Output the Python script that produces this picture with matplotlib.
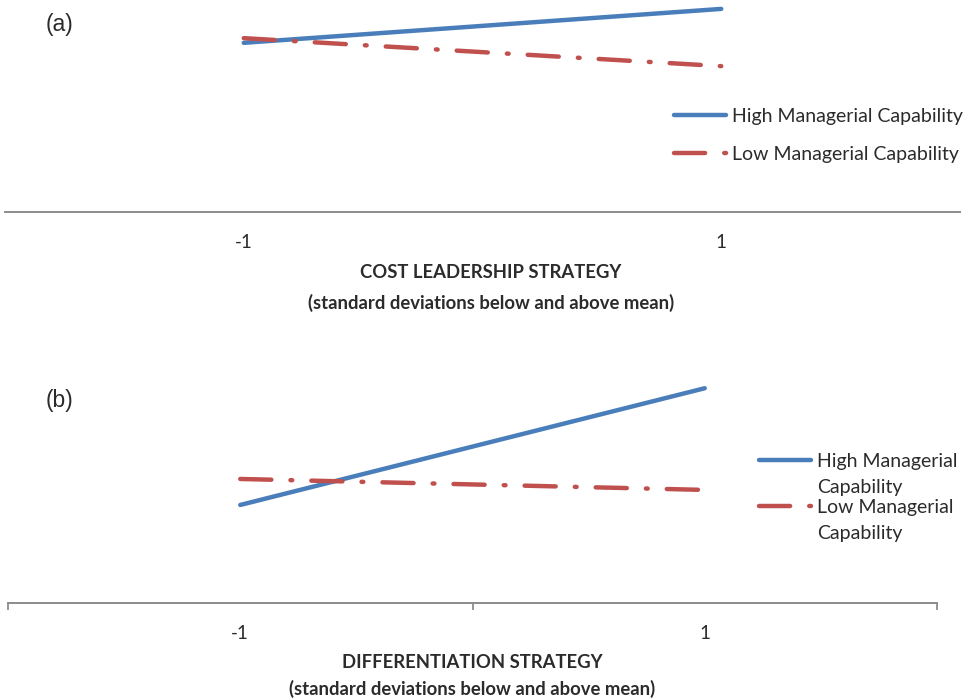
import matplotlib
matplotlib.use('Agg')
import matplotlib.pyplot as plt
from matplotlib.lines import Line2D

# values (arbitrary outcome units, axis bottom = 0)
levels = ['-1', '1']
cost_high = [3.99, 4.79]
cost_low = [4.10, 3.44]
diff_high = [2.15, 4.71]
diff_low = [2.72, 2.48]
labels_a = ['High Managerial Capability', 'Low Managerial Capability']
labels_b = ['High Managerial\nCapability', 'Low Managerial\nCapability']

BLUE = '#4A7EBB'
RED = '#C0504D'
GREY = '#8C8C8C'
TXT = '#2B2B2B'
FONT = ['Lato', 'DejaVu Sans']
plt.rcParams['font.family'] = FONT

fig = plt.figure(figsize=(9.67, 7.0), dpi=100)
W, H = 967, 700
LW = 3.2
dash = [7.0, 4.3, 0.4, 4.3]

def fx(px): return px / W
def fy(py): return 1 - py / H

def px_axes(x0, x1, ytop, ybot):
    return fig.add_axes([fx(x0), fy(ybot), (x1 - x0) / W, (ybot - ytop) / H])

def style(ax, ticks_between):
    ax.set_xlim(-0.5, 1.5)
    ax.set_ylim(0, 5)
    for s in ('top', 'right', 'left'):
        ax.spines[s].set_visible(False)
    ax.spines['bottom'].set_color(GREY)
    ax.spines['bottom'].set_linewidth(1.4)
    ax.set_yticks([])
    ax.set_xticks(range(len(levels)))
    ax.set_xticklabels(levels, fontsize=13.5, color=TXT)
    ax.tick_params(axis='x', which='major', length=0, pad=16)
    if ticks_between:
        ax.set_xticks([-0.5, 0.5, 1.5], minor=True)
        ax.tick_params(axis='x', which='minor', length=5, width=1.3, color=GREY, direction='out')
    ax.patch.set_alpha(0)

def draw(ax, high, low):
    x = range(len(levels))
    ax.plot(x, high, color=BLUE, lw=LW, solid_capstyle='round')
    ax.plot(x, low, color=RED, lw=LW, dashes=dash, dash_capstyle='round')

def legend(x0, rows, texts, linespacing=1.0):
    # Excel-style legend: handle aligned with the first text line
    for (py, txt), style_red in zip(zip(rows, texts), (False, True)):
        kw = dict(color=RED, dashes=dash, dash_capstyle='round') if style_red else dict(color=BLUE, solid_capstyle='round')
        fig.add_artist(Line2D([fx(x0 + 2), fx(x0 + 54)], [fy(py), fy(py)], lw=LW, transform=fig.transFigure, **kw))
        fig.text(fx(x0 + 60), fy(py - 7), txt, fontsize=14, color=TXT, va='top', ha='left',
                 linespacing=linespacing)

# panel (a)
ax1 = px_axes(5, 960, 0, 212)
style(ax1, False)
draw(ax1, cost_high, cost_low)
legend(672, [115, 153], labels_a)

# panel (b)
ax2 = px_axes(8, 937, 375, 603)
style(ax2, True)
draw(ax2, diff_high, diff_low)
legend(757, [460, 506], labels_b, linespacing=1.65)

# panel tags and axis titles
tag = ['Liberation Sans', 'DejaVu Sans']
fig.text(fx(46), fy(25), '(a)', fontsize=16.5, family=tag, va='center', color=TXT)
fig.text(fx(46), fy(400), '(b)', fontsize=16.5, family=tag, va='center', color=TXT)

for x, y, s in [(491, 273, 'COST LEADERSHIP STRATEGY'),
                (491, 303, '(standard deviations below and above mean)'),
                (472, 662, 'DIFFERENTIATION STRATEGY'),
                (472, 689, '(standard deviations below and above mean)')]:
    fig.text(fx(x), fy(y), s, fontsize=13.3, fontweight='bold', ha='center', va='center', color=TXT)

fig.savefig('out.png', dpi=100)
